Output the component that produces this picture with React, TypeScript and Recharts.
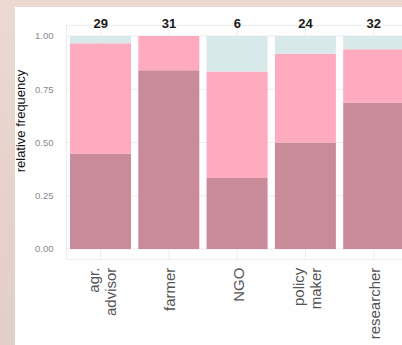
import React from 'react';
import { BarChart, Bar, XAxis, YAxis, CartesianGrid } from 'recharts';

// Respondent roles (line breaks split the axis labels)
const roles = ['agr.\nadvisor', 'farmer', 'NGO', 'policy\nmaker', 'researcher'];
// Answer counts per role, bottom to top of each stack
const lowCounts = [13, 26, 2, 12, 22];
const midCounts = [15, 5, 3, 10, 8];
const highCounts = [1, 0, 1, 2, 2];
const yTicks = [0, 0.25, 0.5, 0.75, 1];

const totals = roles.map((_, i) => lowCounts[i] + midCounts[i] + highCounts[i]);
const data = roles.map((role, i) => ({
  role,
  total: totals[i],
  low: lowCounts[i] / totals[i],
  mid: midCounts[i] / totals[i],
  high: highCounts[i] / totals[i],
}));

const COLORS = { low: '#c98b99', mid: '#ffabbf', high: '#d7e9e9' };
const FONT = '"Liberation Sans", Arial, Helvetica, sans-serif';

function RoleTick(props: any) {
  const { x, y, payload } = props;
  const lines = String(payload.value).split('\n');
  const shifts = lines.length === 1 ? [6.5] : [-2, 15];
  return (
    <g>
      {lines.map((line, k) => (
        <text
          key={k}
          transform={`translate(${x + shifts[k]},${y}) rotate(-90)`}
          textAnchor="end"
          fontSize={15}
          fontFamily={FONT}
          fill="#555555"
        >
          {line}
        </text>
      ))}
    </g>
  );
}

// Group size printed above each stacked bar
function TotalTick(props: any) {
  const { x, y, payload } = props;
  return (
    <text
      x={x}
      y={y + 3}
      textAnchor="middle"
      fontSize={13}
      fontWeight="bold"
      fontFamily={FONT}
      fill="#1a1a1a"
    >
      {payload.value}
    </text>
  );
}

function YTitle() {
  return (
    <text
      transform="translate(20.5,121) rotate(-90)"
      textAnchor="middle"
      dominantBaseline="central"
      fontSize={13}
      fontFamily={FONT}
      fill="#111111"
    >
      relative frequency
    </text>
  );
}

export default function App() {
  return (
    <div
      style={{
        position: 'fixed',
        left: 0,
        top: 0,
        width: 402,
        height: 345,
        overflow: 'hidden',
        background: 'linear-gradient(180deg, #ebd9d2 0%, #e6d2cb 60%, #e3cfc9 100%)',
      }}
    >
      <div
        style={{
          position: 'absolute',
          left: 15,
          top: 7,
          width: 400,
          height: 345,
          background: '#fefefe',
        }}
      />
      <div style={{ position: 'absolute', left: 0, top: 0 }}>
        <BarChart
          width={430}
          height={345}
          data={data}
          margin={{ top: 5.35, right: 22, bottom: 5.35, left: 30 }}
          barCategoryGap={3.5}
        >
          <CartesianGrid stroke="#ececec" strokeWidth={1} />
          <XAxis
            dataKey="role"
            axisLine={false}
            tickLine={false}
            tickSize={0}
            tickMargin={8}
            height={80}
            interval={0}
            tick={<RoleTick />}
          />
          <XAxis
            xAxisId="totals"
            orientation="top"
            dataKey="total"
            type="category"
            allowDuplicatedCategory
            axisLine={false}
            tickLine={false}
            tickSize={0}
            tickMargin={0}
            height={20}
            interval={0}
            tick={<TotalTick />}
          />
          <YAxis
            type="number"
            domain={[-0.05, 1.05]}
            ticks={yTicks}
            allowDataOverflow
            axisLine={false}
            tickLine={false}
            tickSize={0}
            tickMargin={13}
            width={36.5}
            tickFormatter={(v: number) => v.toFixed(2)}
            tick={{ fontSize: 9.5, fill: '#8a8a8a', fontFamily: FONT }}
            label={<YTitle />}
          />
          <Bar dataKey="low" stackId="s" fill={COLORS.low} isAnimationActive={false} />
          <Bar dataKey="mid" stackId="s" fill={COLORS.mid} isAnimationActive={false} />
          <Bar dataKey="high" stackId="s" fill={COLORS.high} isAnimationActive={false} />
        </BarChart>
      </div>
    </div>
  );
}
